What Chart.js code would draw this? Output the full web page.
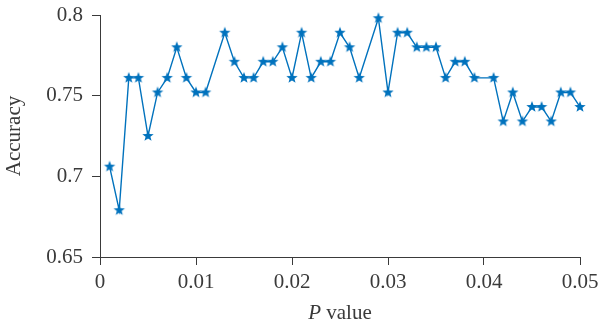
<!DOCTYPE html>
<html>
<head>
<meta charset="utf-8">
<script src="https://cdn.jsdelivr.net/npm/chart.js@4/dist/chart.umd.min.js"></script>
<style>
html,body{margin:0;padding:0;background:#fff;}
#wrap{width:600px;height:330px;position:relative;}
</style>
</head>
<body>
<div id="wrap"><canvas id="c" width="600" height="330"></canvas></div>
<script>
// P values (x) and accuracy (y)
const pValues = [0.001,0.002,0.003,0.004,0.005,0.006,0.007,0.008,0.009,0.010,0.011,
  0.013,0.014,0.015,0.016,0.017,0.018,0.019,0.020,0.021,0.022,0.023,0.024,0.025,0.026,0.027,
  0.029,0.030,0.031,0.032,0.033,0.034,0.035,0.036,0.037,0.038,0.039,
  0.041,0.042,0.043,0.044,0.045,0.046,0.047,0.048,0.049,0.050];
const accuracy = [0.706,0.679,0.761,0.761,0.725,0.752,0.761,0.780,0.761,0.752,0.752,
  0.789,0.771,0.761,0.761,0.771,0.771,0.780,0.761,0.789,0.761,0.771,0.771,0.789,0.780,0.761,
  0.798,0.752,0.789,0.789,0.780,0.780,0.780,0.761,0.771,0.771,0.761,
  0.761,0.734,0.752,0.734,0.743,0.743,0.734,0.752,0.752,0.743];
const xTickValues = [0,0.01,0.02,0.03,0.04,0.05];
const xTickLabels = ["0","0.01","0.02","0.03","0.04","0.05"];
const yTickValues = [0.65,0.7,0.75,0.8];
const yTickLabels = ["0.65","0.7","0.75","0.8"];
const xTitleItalic = "P";
const xTitleRest = " value";
const yTitle = "Accuracy";

const BLUE = '#0072BD';
const AXIS = '#3a3a3a';
const FONT = "'Liberation Serif','DejaVu Serif',serif";
const FS = 21;

// filled five-pointed star marker
function makeStar(r, color){
  const s = Math.ceil(r*2)+2;
  const cv = document.createElement('canvas');
  cv.width = s; cv.height = s;
  const g = cv.getContext('2d');
  const cx = s/2, cy = s/2, ri = r*0.42;
  g.beginPath();
  for(let i=0;i<10;i++){
    const rad = i%2===0 ? r : ri;
    const a = -Math.PI/2 + i*Math.PI/5;
    const px = cx + rad*Math.cos(a), py = cy + rad*Math.sin(a);
    if(i===0) g.moveTo(px,py); else g.lineTo(px,py);
  }
  g.closePath();
  g.fillStyle = color; g.fill();
  return cv;
}
const star = makeStar(6, BLUE);

const points = pValues.map((p,i)=>({x:p, y:accuracy[i]}));

const xTitlePlugin = {
  id:'xTitle',
  afterDraw(chart){
    const ctx = chart.ctx;
    const area = chart.chartArea;
    const cx = (area.left+area.right)/2;
    const y = 313;
    ctx.save();
    ctx.fillStyle = AXIS;
    ctx.textBaseline = 'middle';
    ctx.font = "italic " + FS + "px " + FONT;
    const w1 = ctx.measureText(xTitleItalic).width;
    ctx.font = FS + "px " + FONT;
    const w2 = ctx.measureText(xTitleRest).width;
    const start = cx - (w1+w2)/2;
    ctx.textAlign = 'left';
    ctx.font = "italic " + FS + "px " + FONT;
    ctx.fillText(xTitleItalic, start, y);
    ctx.font = FS + "px " + FONT;
    ctx.fillText(xTitleRest, start + w1, y);
    ctx.restore();
  }
};

new Chart(document.getElementById('c'), {
  type:'line',
  data:{
    datasets:[{
      data: points,
      borderColor: BLUE,
      backgroundColor: BLUE,
      borderWidth: 1.4,
      pointStyle: star,
      pointRadius: 6,
      pointHoverRadius: 6,
      tension: 0,
      fill:false,
      clip:false
    }]
  },
  options:{
    responsive:false,
    animation:false,
    devicePixelRatio:1,
    layout:{padding:{left:0,right:20,top:15,bottom:0}},
    plugins:{legend:{display:false},tooltip:{enabled:false}},
    scales:{
      x:{
        type:'linear',
        min:0, max:0.05,
        afterBuildTicks(s){ s.ticks = xTickValues.map(v=>({value:v})); },
        afterFit(s){ s.height = 73; s.paddingRight = 0; s.paddingLeft = 0; },
        grid:{display:true, drawTicks:true, tickLength:8, tickColor:AXIS, drawOnChartArea:false, color:AXIS},
        border:{display:true, color:AXIS, width:1},
        ticks:{
          color:AXIS, padding:5, maxRotation:0, autoSkip:false,
          font:{family:FONT, size:FS},
          callback(v){ const i = xTickValues.findIndex(t=>Math.abs(t-v)<1e-9); return i>=0 ? xTickLabels[i] : ''; }
        },
        title:{display:false}
      },
      y:{
        min:0.65, max:0.8,
        afterBuildTicks(s){ s.ticks = yTickValues.map(v=>({value:v})); },
        afterFit(s){ s.width = 100; s.paddingTop = 0; s.paddingBottom = 0; },
        grid:{display:true, drawTicks:true, tickLength:8, tickColor:AXIS, drawOnChartArea:false, color:AXIS},
        border:{display:true, color:AXIS, width:1},
        ticks:{
          color:AXIS, padding:9,
          font:{family:FONT, size:FS},
          callback(v){ const i = yTickValues.findIndex(t=>Math.abs(t-v)<1e-9); return i>=0 ? yTickLabels[i] : ''; }
        },
        title:{display:true, text:yTitle, color:AXIS, font:{family:FONT, size:FS}, padding:{top:2,bottom:0}}
      }
    }
  },
  plugins:[xTitlePlugin]
});
</script>
</body>
</html>
